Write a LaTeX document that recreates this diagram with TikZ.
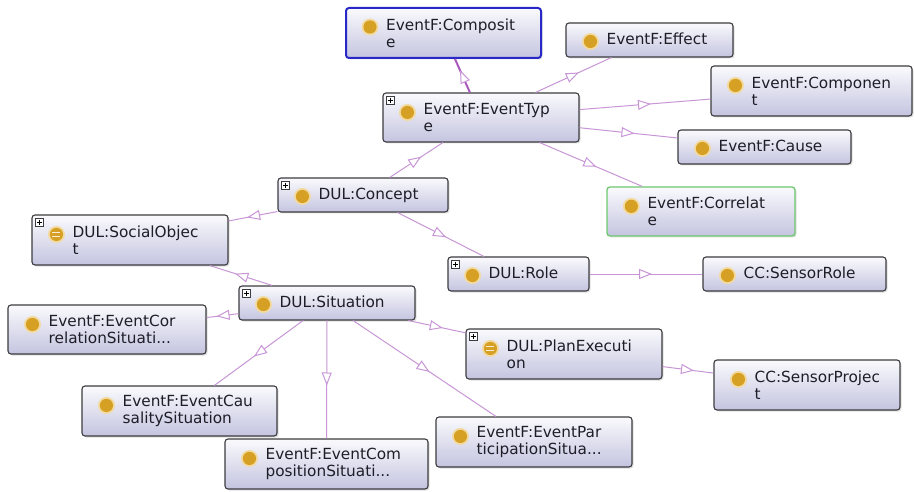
\documentclass[tikz,border=0pt]{standalone}
\usepackage{fontspec}
\setmainfont{DejaVu Sans}
\usetikzlibrary{arrows.meta,decorations.markings,shadows}
\definecolor{edgecol}{RGB}{200,150,215}
\definecolor{edgesel}{RGB}{170,90,190}
\definecolor{boxtop}{RGB}{250,250,253}
\definecolor{boxbot}{RGB}{196,196,224}
\definecolor{boxline}{RGB}{60,60,64}
\definecolor{goldc}{RGB}{214,160,36}
\definecolor{haloc}{RGB}{242,218,160}
\definecolor{selblue}{RGB}{40,40,200}
\definecolor{selgreen}{RGB}{110,200,110}
\definecolor{txtc}{RGB}{30,30,40}
\tikzset{
  ontobox/.style={rectangle, rounded corners=3pt, draw=boxline, line width=1.1pt,
    top color=boxtop, bottom color=boxbot,
    drop shadow={shadow xshift=1.5pt, shadow yshift=-1.5pt, opacity=0.25}, inner sep=0pt},
  lbl/.style={anchor=west, inner sep=0pt, align=left, text=txtc, font=\fontsize{15.3}{17}\selectfont},
  isa/.style={draw=edgecol, line width=1pt, postaction={decorate},
    decoration={markings, mark=at position 0.5 with {\arrow[edgecol, line width=1pt, xshift=6pt]{Triangle[length=13pt,width=10pt,fill=white]}}}},
  isasel/.style={isa, draw=edgesel, line width=2pt},
}
\newcommand\onto[6]{\node[ontobox, minimum width=#4pt, minimum height=#5pt, #6] (#1) at (#2,#3) {};}
\newcommand\lblone[2]{\node[lbl, anchor=base west] (#1-l) at ([xshift=41pt,yshift=-4.5pt]#1.west) {#2};}
\newcommand\lbltwo[2]{\node[lbl] (#1-l) at ([xshift=41pt]#1.west) {#2};}
\newcommand\golddot[1]{\fill[haloc] #1 circle (8.5pt); \fill[goldc] #1 circle (6.6pt);}
\newcommand\dotone[1]{\golddot{([xshift=25pt,yshift=-1.5pt]#1.west)}}
\newcommand\dottwo[1]{\golddot{([xshift=25pt,yshift=-20pt]#1.north west)}}
\newcommand\eqtwo[1]{\dottwo{#1}
  \draw[haloc!50!white, line width=1.3pt] ([xshift=21pt,yshift=-18pt]#1.north west) -- ++(8pt,0pt)
    ([xshift=21pt,yshift=-22pt]#1.north west) -- ++(8pt,0pt);}
\newcommand\plusbox[1]{\draw[boxline, fill=white, line width=0.6pt] ([xshift=4pt,yshift=-4pt]#1.north west) rectangle ++(8pt,-8pt);
  \draw[black, line width=0.8pt] ([xshift=5.5pt,yshift=-8pt]#1.north west) -- ++(5pt,0pt)
    ([xshift=8pt,yshift=-5.5pt]#1.north west) -- ++(0pt,-5pt);}
\begin{document}
\begin{tikzpicture}[x=1pt,y=-1pt]
\fill[white] (0,0) rectangle (914,492);
\useasboundingbox (0,0) rectangle (914,492);
% boxes
\onto{comp}{443.5}{33}{195}{50}{draw=selblue, line width=2pt}
\onto{eff}{649.5}{40}{167}{34}{}
\onto{etype}{481}{117.5}{196}{49}{}
\onto{compo}{811.5}{91}{201}{50}{}
\onto{cause}{764.5}{147}{173}{34}{}
\onto{corr}{701}{211.5}{188}{49}{draw=selgreen, line width=1.3pt}
\onto{concept}{363}{195}{170}{34}{}
\onto{social}{130}{240}{196}{50}{}
\onto{sit}{327}{303}{176}{34}{}
\onto{role}{518.5}{274}{141}{34}{}
\onto{srole}{794.5}{274}{183}{34}{}
\onto{plan}{564}{354}{196}{50}{}
\onto{sproj}{807}{385}{186}{50}{}
\onto{corrsit}{107}{329.5}{198}{49}{}
\onto{caus}{179.5}{411}{195}{50}{}
\onto{compsit}{326.5}{464}{203}{50}{}
\onto{part}{534}{442}{196}{50}{}
% icons
\dottwo{comp}
\dotone{eff}
\dottwo{etype}\plusbox{etype}
\dottwo{compo}
\dotone{cause}
\dottwo{corr}
\dotone{concept}\plusbox{concept}
\eqtwo{social}\plusbox{social}
\dotone{sit}\plusbox{sit}
\dotone{role}\plusbox{role}
\dotone{srole}
\eqtwo{plan}\plusbox{plan}
\dottwo{sproj}
\dottwo{corrsit}
\dottwo{caus}
\dottwo{compsit}
\dottwo{part}
% labels
\lbltwo{comp}{EventF:Composit\\e}
\lblone{eff}{EventF:Effect}
\lbltwo{etype}{EventF:EventTyp\\e}
\lbltwo{compo}{EventF:Componen\\t}
\lblone{cause}{EventF:Cause}
\lbltwo{corr}{EventF:Correlat\\e}
\lblone{concept}{DUL:Concept}
\lbltwo{social}{DUL:SocialObjec\\t}
\lblone{sit}{DUL:Situation}
\lblone{role}{DUL:Role}
\lblone{srole}{CC:SensorRole}
\lbltwo{plan}{DUL:PlanExecuti\\on}
\lbltwo{sproj}{CC:SensorProjec\\t}
\lbltwo{corrsit}{EventF:EventCor\\relationSituati...}
\lbltwo{caus}{EventF:EventCau\\salitySituation}
\lbltwo{compsit}{EventF:EventCom\\positionSituati...}
\lbltwo{part}{EventF:EventPar\\ticipationSitua...}
% edges
\draw[isasel] (etype) -- (comp);
\draw[isa] (etype) -- (eff);
\draw[isa] (etype) -- (compo);
\draw[isa] (etype) -- (cause);
\draw[isa] (etype) -- (corr);
\draw[isa] (concept) -- (etype);
\draw[isa] (concept) -- (social);
\draw[isa] (concept) -- (role);
\draw[isa] (sit) -- (social);
\draw[isa] (role) -- (srole);
\draw[isa] (sit) -- (corrsit);
\draw[isa] (sit) -- (caus);
\draw[isa] (sit) -- (compsit);
\draw[isa] (sit) -- (part);
\draw[isa] (sit) -- (plan);
\draw[isa] (plan) -- (sproj);
\end{tikzpicture}
\end{document}
